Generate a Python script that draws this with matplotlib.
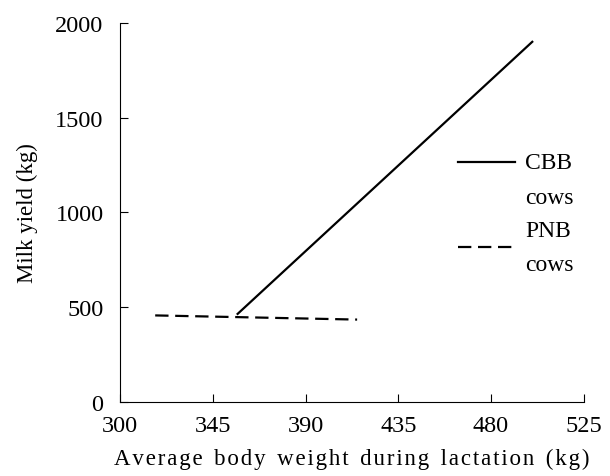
import matplotlib.pyplot as plt
from matplotlib.lines import Line2D

# values
cbb_weight = [357, 500]
cbb_milk = [465, 1900]
pnb_weight = [317, 415]
pnb_milk = [457, 435]
x_ticks = [300, 345, 390, 435, 480, 525]
y_ticks = [0, 500, 1000, 1500, 2000]

plt.rcParams['font.family'] = ['Liberation Serif', 'DejaVu Serif']

fig = plt.figure(figsize=(6.1, 4.77), dpi=100)
ax = fig.add_axes([0.197, 0.155, 0.76, 0.795])

ax.plot(cbb_weight, cbb_milk, color='black', linewidth=1.6)
ax.plot(pnb_weight, pnb_milk, color='black', linewidth=1.6, linestyle=(0, (6, 3)))

ax.set_xlim(300, 525)
ax.set_ylim(0, 2000)
ax.set_xticks(x_ticks)
ax.set_yticks(y_ticks)
ax.tick_params(direction='in', length=6, labelsize=17.5, colors='black', pad=12)
ax.tick_params(axis='x', pad=9)
for s in ['top', 'right']:
    ax.spines[s].set_visible(False)

xlab = 'Average body weight during lactation (kg)'
xlab = '\u200a'.join(xlab).replace('\u200a \u200a', '  ')
ax.set_xlabel(xlab, fontsize=16.5, labelpad=9)
ax.set_ylabel('Milk yield (kg)', fontsize=16.5, labelpad=12)

# legend drawn by hand, as in the original
ax.add_line(Line2D([0.728, 0.851], [0.633, 0.633], transform=ax.transAxes, color='black', linewidth=1.6))
ax.text(0.873, 0.633, 'CBB', transform=ax.transAxes, fontsize=17, va='center')
ax.text(0.873, 0.54, 'cows', transform=ax.transAxes, fontsize=17, va='center')
ax.add_line(Line2D([0.728, 0.851], [0.41, 0.41], transform=ax.transAxes, color='black',
                   linewidth=1.6, linestyle=(0, (6, 3))))
ax.text(0.873, 0.452, 'PNB', transform=ax.transAxes, fontsize=17, va='center')
ax.text(0.873, 0.364, 'cows', transform=ax.transAxes, fontsize=17, va='center')

fig.savefig('out.png', dpi=100)
